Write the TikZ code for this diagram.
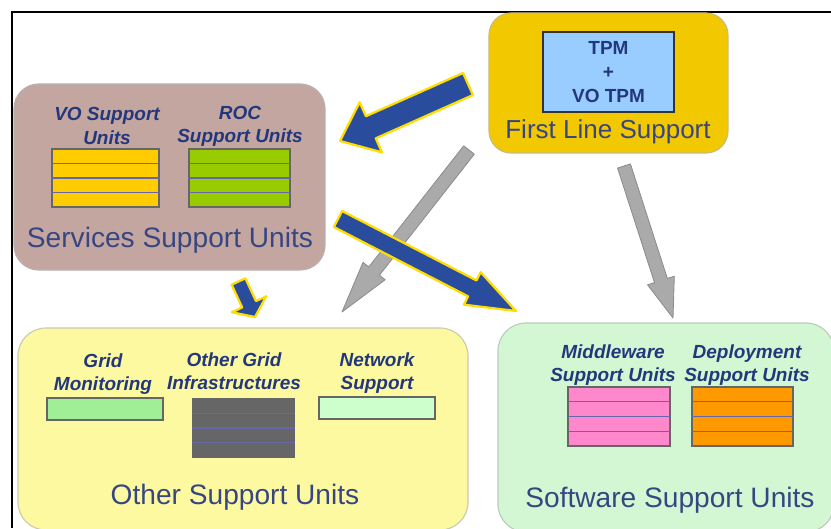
\documentclass[tikz,border=0pt]{standalone}
\usepackage{fontspec}
\setmainfont{Liberation Sans}
\usetikzlibrary{calc}

\definecolor{titleblue}{RGB}{55,70,130}
\definecolor{lblblue}{RGB}{35,55,125}
\definecolor{servfill}{RGB}{196,166,160}
\definecolor{firstfill}{RGB}{242,200,0}
\definecolor{tpmfill}{RGB}{153,204,255}
\definecolor{otherfill}{RGB}{252,249,160}
\definecolor{softfill}{RGB}{210,247,210}
\definecolor{vofill}{RGB}{255,204,0}
\definecolor{rocfill}{RGB}{153,204,0}
\definecolor{gridfill}{RGB}{160,238,150}
\definecolor{ogifill}{RGB}{102,102,102}
\definecolor{netfill}{RGB}{204,255,204}
\definecolor{mwfill}{RGB}{255,136,204}
\definecolor{depfill}{RGB}{255,153,0}
\definecolor{arrowblue}{RGB}{42,76,156}
\definecolor{arrowrim}{RGB}{255,221,0}
\definecolor{arrowgray}{RGB}{170,170,170}

\tikzset{
  unitbox/.style={draw=#1!60!black!50, fill=#1, line width=0.8pt, inner sep=0pt},
  stackbox/.style={draw=black!60, fill=#1, line width=0.8pt, inner sep=0pt},
  stackline/.style={draw=black!55!blue!60, line width=0.8pt},
  lbl/.style={text=lblblue, align=center, inner sep=0pt,
    font=\fontsize{13.5}{16.5}\selectfont\bfseries\itshape},
  title/.style={text=titleblue, inner sep=0pt, font=\fontsize{20}{24}\selectfont},
  bluearrow/.style={fill=arrowblue, draw=arrowrim, line width=1.6pt, line join=round},
  grayarrow/.style={fill=arrowgray, draw=black!45, line width=0.6pt, line join=round}
}

% fat arrow: style, tail, tip, half shaft, half head, head length
\newcommand{\fatarrow}[6]{%
  \coordinate (#2#3) at ($(#3)!#6!(#2)$);
  \filldraw[#1] ($(#2)!#4!90:(#3)$) -- ($(#2#3)!#4!90:(#3)$) -- ($(#2#3)!#5!90:(#3)$) -- (#3)
    -- ($(#2#3)!#5!-90:(#3)$) -- ($(#2#3)!#4!-90:(#3)$) -- ($(#2)!#4!-90:(#3)$) -- cycle;
}

\begin{document}
\begin{tikzpicture}[x=0.025cm,y=-0.025cm]
\useasboundingbox (0,0) rectangle (831,528);
\draw[line width=1.5pt] (12,528) -- (12,12) -- (831,12);

% services support units
\node[unitbox=servfill, rounded corners=0.62cm, minimum width=7.775cm, minimum height=4.65cm] (serv) at (169.5,177) {};
\node[stackbox=vofill, minimum width=2.675cm, minimum height=1.45cm] (vo) at (105.5,178) {};
\node[stackbox=rocfill, minimum width=2.525cm, minimum height=1.45cm] (roc) at (239.5,178) {};
\node[lbl] (volbl) at (107,126) {VO Support\\Units};
\node[lbl] (roclbl) at (240,126) {ROC\\Support Units};
\node[title] (servtitle) at (170,240) {Services Support Units};

% first line support
\node[unitbox=firstfill, rounded corners=0.55cm, minimum width=5.975cm, minimum height=3.5cm] (first) at (608.5,83) {};
\node[draw=black!80, fill=tpmfill, line width=1.2pt, minimum width=3.275cm, minimum height=2cm,
  text=lblblue, align=center, font=\fontsize{13.5}{17}\selectfont\bfseries] (tpm) at (608.5,72) {TPM\\+\\VO TPM};
\node[title, font=\fontsize{18.5}{22}\selectfont] (firsttitle) at (608,132) {First Line Support};

% other support units
\node[unitbox=otherfill, rounded corners=0.7cm, minimum width=11.25cm, minimum height=5.05cm] (other) at (243,429) {};
\node[stackbox=gridfill, minimum width=2.9cm, minimum height=0.55cm] (grid) at (105,409) {};
\node[stackbox=ogifill, minimum width=2.525cm, minimum height=1.45cm] (ogi) at (243.5,428) {};
\node[stackbox=netfill, minimum width=2.9cm, minimum height=0.55cm] (net) at (377,408) {};
\node[lbl] (gridlbl) at (103,374) {Grid\\Monitoring};
\node[lbl] (ogilbl) at (234,371) {Other Grid\\Infrastructures};
\node[lbl] (netlbl) at (377,373) {Network\\Support};
\node[title] (othertitle) at (235,497) {Other Support Units};

% software support units
\node[unitbox=softfill, rounded corners=0.7cm, minimum width=8.4cm, minimum height=5.225cm] (soft) at (666,427.5) {};
\node[stackbox=mwfill, minimum width=2.55cm, minimum height=1.475cm] (mw) at (619,416.5) {};
\node[stackbox=depfill, minimum width=2.525cm, minimum height=1.475cm] (dep) at (742.5,416.5) {};
\node[lbl] (mwlbl) at (613,365) {Middleware\\Support Units};
\node[lbl] (deplbl) at (747,365) {Deployment\\Support Units};
\node[title] (softtitle) at (670,500) {Software Support Units};

\foreach \s in {vo,roc,ogi,mw,dep}
  \foreach \k in {1,2,3}
    \draw[stackline] ($(\s.north west)!\k/4!(\s.south west)$) -- ($(\s.north east)!\k/4!(\s.south east)$);

% arrows
\coordinate (g1s) at (469,150);
\coordinate (g1e) at (342,312);
\coordinate (g2s) at (624,166);
\coordinate (g2e) at (673,318);
\coordinate (b1s) at (468,84);
\coordinate (b1e) at (340,141);
\coordinate (b2s) at (338,219);
\coordinate (b2e) at (516,311);
\coordinate (b3s) at (238.5,281.5);
\coordinate (b3e) at (255,317);

\fatarrow{grayarrow}{g1s}{g1e}{4.8pt}{10pt}{37pt}
\fatarrow{grayarrow}{g2s}{g2e}{4.8pt}{10pt}{28pt}
\fatarrow{bluearrow}{b1s}{b1e}{8.6pt}{19.5pt}{24pt}
\fatarrow{bluearrow}{b2s}{b2e}{6.4pt}{13pt}{35pt}
\fatarrow{bluearrow}{b3s}{b3e}{5.4pt}{13.5pt}{10pt}
\end{tikzpicture}
\end{document}
